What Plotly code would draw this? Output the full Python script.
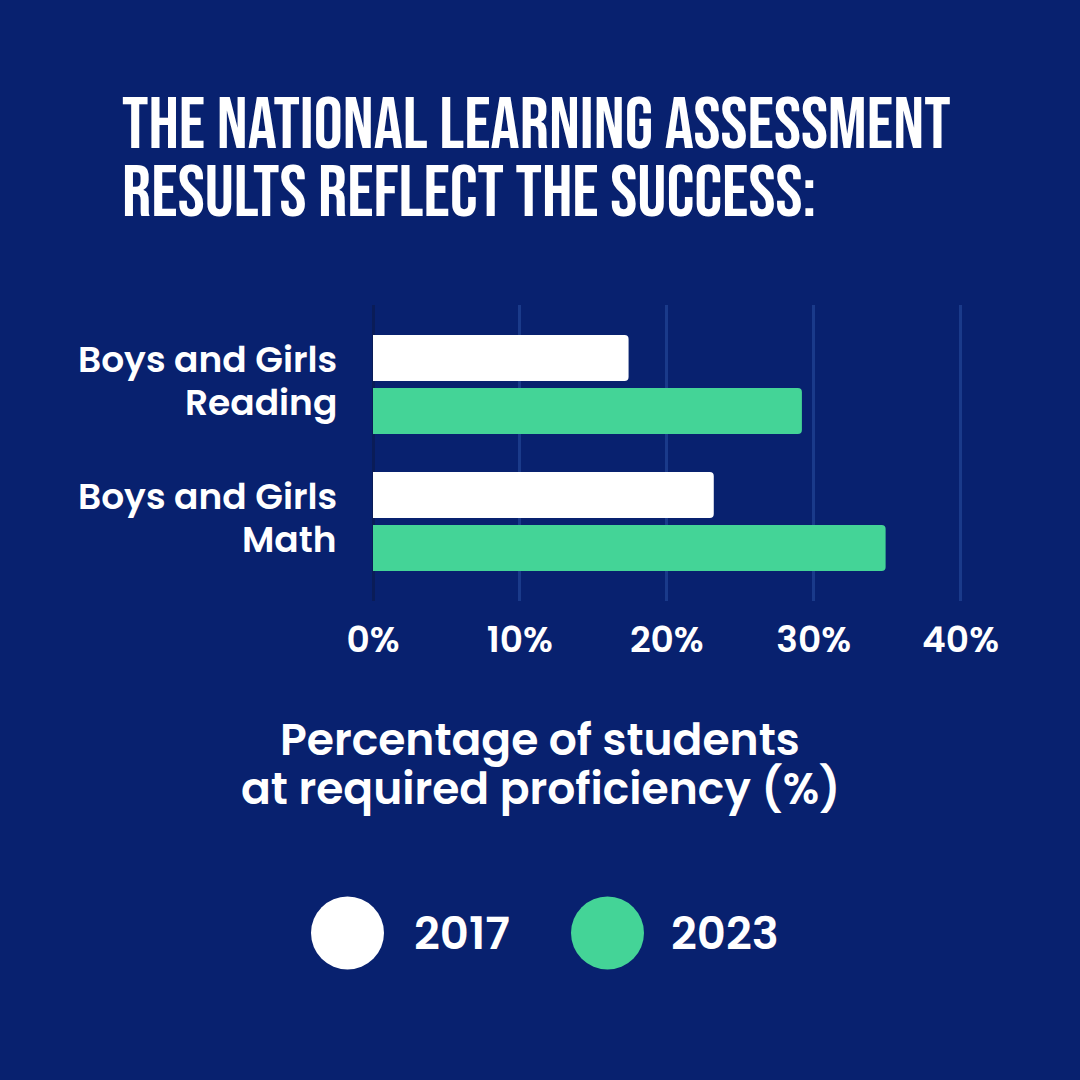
import plotly.graph_objects as go

categories = ["Reading", "Math"]
category_lines = [["Boys and Girls", "Reading"], ["Boys and Girls", "Math"]]
series_names = ["2017", "2023"]
values_2017 = [17.4, 23.2]
values_2023 = [29.2, 34.9]
x_ticks = [0, 10, 20, 30, 40]
x_tick_labels = ["0%", "10%", "20%", "30%", "40%"]
title_lines = ["THE NATIONAL LEARNING ASSESSMENT", "RESULTS REFLECT THE SUCCESS:"]
axis_title_lines = ["Percentage of students", "at required proficiency (%)"]

BG = "#08216f"
WHITE = "#ffffff"
GREEN = "#44d497"
FONT = "Poppins, Inter, 'Open Sans', sans-serif"
TITLE_FONT = "'Bebas Neue', 'Liberation Sans Narrow', 'DejaVu Sans Condensed', sans-serif"
WEIGHT = 600

W, H = 1080, 1080
L, R, T, B = 373, 118, 305, 479
PW, PH = W - L - R, H - T - B

def px_x(px):
    return (px - L) / PW

def px_y(py):
    return (H - B - py) / PH

fig = go.Figure()
fig.add_trace(go.Bar(y=categories, x=values_2017, name=series_names[0], orientation="h",
                     marker=dict(color=WHITE, line=dict(width=0)), showlegend=False))
fig.add_trace(go.Bar(y=categories, x=values_2023, name=series_names[1], orientation="h",
                     marker=dict(color=GREEN, line=dict(width=0)), showlegend=False))

fig.update_layout(
    width=W, height=H,
    paper_bgcolor=BG, plot_bgcolor=BG,
    margin=dict(l=L, r=R, t=T, b=B, autoexpand=False),
    barmode="group", bargap=0.226, bargroupgap=0.13, barcornerradius=4,
    font=dict(family=FONT, color=WHITE),
    xaxis=dict(range=[0, 40.1], tickvals=x_ticks, ticktext=x_tick_labels,
               showgrid=True, gridcolor="#1a3a8a", gridwidth=3,
               zeroline=True, zerolinecolor="#0a1c58", zerolinewidth=3,
               showline=False, ticks="", ticklabelstandoff=14,
               tickfont=dict(size=36, family=FONT, weight=WEIGHT, color=WHITE)),
    yaxis=dict(type="category", categoryorder="array", categoryarray=categories,
               range=[1.58, -0.58], showgrid=False, zeroline=False,
               showline=False, ticks="", showticklabels=False),
)

annotations = []
for line, cy in zip(title_lines, [126.5, 194.5]):
    annotations.append(dict(text=line, xref="paper", yref="paper", x=px_x(120), y=px_y(cy),
                            xanchor="left", yanchor="middle", align="left", showarrow=False,
                            font=dict(family=TITLE_FONT, size=72.5, color=WHITE)))
for cat, lines in zip(categories, category_lines):
    for j, line in enumerate(lines):
        annotations.append(dict(text=line, xref="paper", yref="y", x=px_x(339), y=cat,
                                yshift=[25, -18][j], xanchor="right", yanchor="middle",
                                showarrow=False,
                                font=dict(family=FONT, size=36, weight=WEIGHT, color=WHITE)))
for line, cy in zip(axis_title_lines, [739.5, 788]):
    annotations.append(dict(text=line, xref="paper", yref="paper", x=px_x(540), y=px_y(cy),
                            xanchor="center", yanchor="middle", align="center", showarrow=False,
                            font=dict(family=FONT, size=44, weight=WEIGHT, color=WHITE)))
legend_items = [(347.5, series_names[0], WHITE, 414), (607.5, series_names[1], GREEN, 671)]
shapes = []
for cx, name, col, tx in legend_items:
    shapes.append(dict(type="circle", xref="paper", yref="paper", xsizemode="pixel", ysizemode="pixel",
                       xanchor=px_x(cx), yanchor=px_y(933), x0=-36.5, x1=36.5, y0=-36.5, y1=36.5,
                       fillcolor=col, line=dict(width=0)))
    annotations.append(dict(text=name, xref="paper", yref="paper", x=px_x(tx - 2), y=px_y(933),
                            xanchor="left", yanchor="middle", showarrow=False,
                            font=dict(family=FONT, size=45, weight=WEIGHT, color=WHITE)))
fig.update_layout(annotations=annotations, shapes=shapes)

fig.write_html("out.html", config={"displayModeBar": False},
               post_script="document.body.style.margin='0px';document.body.style.background='%s';" % BG)
